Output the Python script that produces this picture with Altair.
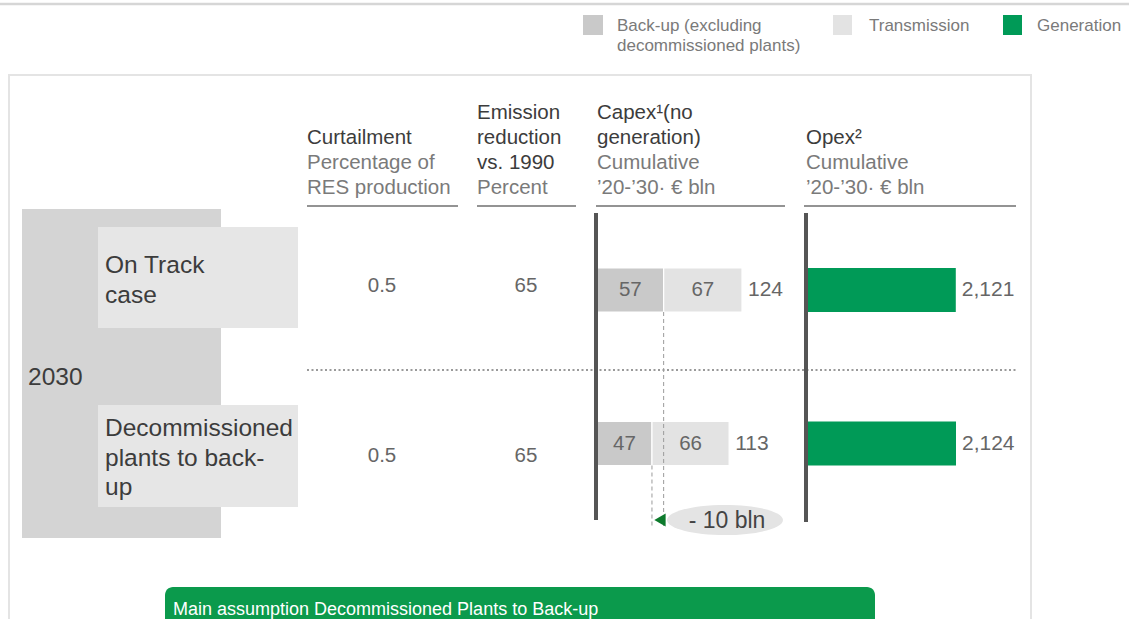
import altair as alt
import pandas as pd

W, H = 1129, 619
FONT = "Liberation Sans"

# ---------------- data ----------------
cases = ["On Track\ncase", "Decommissioned\nplants to back-\nup"]
year_label = "2030"
curtailment = [0.5, 0.5]
emission = [65, 65]
capex_backup = [57, 47]
capex_transmission = [67, 66]
opex = [2121, 2124]
components = ["Back-up", "Transmission"]
legend_labels = ["Back-up (excluding\ndecommissioned plants)", "Transmission", "Generation"]
col_titles = ["Curtailment", "Emission\nreduction\nvs. 1990", "Capex\u00b9(no\ngeneration)", "Opex\u00b2"]
col_units = ["Percentage of\nRES production", "Percent", "Cumulative\n\u201920-\u201930\u00b7 \u20ac bln", "Cumulative\n\u201920-\u201930\u00b7 \u20ac bln"]
footer_text = "Main assumption Decommissioned Plants to Back-up"

# ---------------- colours / layout ----------------
C_BACKUP, C_TRANS, C_GEN = "#c9c9c9", "#e3e3e3", "#009a57"
capex_totals = [b + t for b, t in zip(capex_backup, capex_transmission)]

PX = alt.Scale(domain=[0, W], range=[0, W], nice=False, zero=False, padding=0)
PY = alt.Scale(domain=[0, H], range=[0, H], nice=False, zero=False, padding=0)
ROW = alt.Scale(domain=[0, 1], range=[290, 443.5], nice=False, zero=False, padding=0)
CAPEX = alt.Scale(domain=[0, max(capex_totals)], range=[597, 742], nice=False, padding=0)
OPEX = alt.Scale(domain=[0, max(opex)], range=[808, 956], nice=False, padding=0)


def X(f, s=PX):
    return alt.X(f, type="quantitative", scale=s, axis=None)


def Y(f, s=PY):
    return alt.Y(f, type="quantitative", scale=s, axis=None)


def X2(f):
    return alt.X2(f)


def Y2(f):
    return alt.Y2(f)


# boxes (layout)
boxes = pd.DataFrame([
    dict(x=22, x2=221, y=209, y2=538, c="#d4d4d4"),
    dict(x=98, x2=298, y=227, y2=328, c="#e6e6e6"),
    dict(x=98, x2=298, y=405, y2=507, c="#e6e6e6"),
    dict(x=583, x2=603, y=15, y2=35, c=C_BACKUP),
    dict(x=833, x2=852, y=15, y2=35, c=C_TRANS),
    dict(x=1003, x2=1022, y=15, y2=35, c=C_GEN),
])
box_layer = alt.Chart(boxes).mark_rect().encode(
    x=X("x"), x2=X2("x2"), y=Y("y"), y2=Y2("y2"),
    color=alt.Color("c:N", scale=None))

panel = alt.Chart(pd.DataFrame([dict(x=9, x2=1031, y=75, y2=680)])).mark_rect(
    fillOpacity=0, stroke="#e4e4e4", strokeWidth=2).encode(
    x=X("x"), x2=X2("x2"), y=Y("y"), y2=Y2("y2"))

top_line = alt.Chart(pd.DataFrame([dict(x=0, x2=W, y=4)])).mark_rule(
    color="#d6d6d6", strokeWidth=2.5).encode(x=X("x"), x2=X2("x2"), y=Y("y"))

col_x = [307, 477, 597, 806]
col_rule = [(307, 458), (477, 576), (596, 785), (804, 1016)]
underline = alt.Chart(pd.DataFrame([dict(x=a, x2=b, y=206) for a, b in col_rule])).mark_rule(
    color="#6f6f6f", strokeWidth=1.5).encode(x=X("x"), x2=X2("x2"), y=Y("y"))

separator = alt.Chart(pd.DataFrame([dict(x=307, x2=1017, y=370)])).mark_rule(
    color="#9a9a9a", strokeWidth=2, strokeDash=[2, 2.5]).encode(x=X("x"), x2=X2("x2"), y=Y("y"))

axes = alt.Chart(pd.DataFrame([dict(x=596, y=213, y2=520), dict(x=806, y=213, y2=522)])).mark_rule(
    color="#555555", strokeWidth=4).encode(x=X("x"), y=Y("y"), y2=Y2("y2"))

# header text lines
hdr_rows = []
for cx, t, u in zip(col_x, col_titles, col_units):
    lines = [(s, "#3c3c3c") for s in t.split("\n")] + [(s, "#7a7a7a") for s in u.split("\n")]
    n = len(lines)
    for i, (s, c) in enumerate(lines):
        hdr_rows.append(dict(x=cx, y=188 - 25 * (n - 1 - i), t=s, c=c, s=20.5))
# legend text
leg_x = [617, 869, 1037]
for lx, lab in zip(leg_x, legend_labels):
    for i, s in enumerate(lab.split("\n")):
        hdr_rows.append(dict(x=lx, y=26 + 20 * i, t=s, c="#7a7a7a", s=17))
hdr_rows.append(dict(x=28, y=378, t=year_label, c="#3c3c3c", s=24.5))
left_text = alt.Chart(pd.DataFrame(hdr_rows)).mark_text(
    align="left", baseline="middle", font=FONT).encode(
    x=X("x"), y=Y("y"), text="t:N", color=alt.Color("c:N", scale=None),
    size=alt.Size("s:Q", scale=None))

# case labels
case_df = pd.DataFrame(dict(t=cases, y=[254, 417]))
case_text = alt.Chart(case_df).mark_text(
    align="left", baseline="top", font=FONT, fontSize=24.5, lineHeight=29.5,
    lineBreak="\n", color="#3c3c3c").encode(
    x=alt.value(105), y=Y("y"), text="t:N")

# table values
vals = pd.DataFrame(dict(y=[286, 456], cur=curtailment, emi=emission))
cur_text = alt.Chart(vals).mark_text(font=FONT, fontSize=20.5, color="#666666").encode(
    x=alt.value(382), y=Y("y"), text=alt.Text("cur:Q", format=".1f"))
emi_text = alt.Chart(vals).mark_text(font=FONT, fontSize=20.5, color="#666666").encode(
    x=alt.value(526), y=Y("y"), text=alt.Text("emi:Q", format="d"))

# capex stacked bars
cap_rows = []
for r in range(2):
    cap_rows.append(dict(row=r, comp=components[0], v=capex_backup[r], o=0))
    cap_rows.append(dict(row=r, comp=components[1], v=capex_transmission[r], o=1))
cap_df = pd.DataFrame(cap_rows)
cap_bars = alt.Chart(cap_df).mark_bar(orient="horizontal", size=44, stroke="white", strokeWidth=1.2).encode(
    x=alt.X("v:Q", stack="zero", scale=CAPEX, axis=None),
    y=Y("row", ROW),
    color=alt.Color("comp:N", scale=alt.Scale(domain=components, range=[C_BACKUP, C_TRANS]), legend=None),
    order=alt.Order("o:Q"))
cap_lab = alt.Chart(cap_df).transform_window(
    cum="sum(v)", groupby=["row"], sort=[alt.SortField("o")]
).transform_calculate(mid="datum.cum - datum.v / 2").mark_text(
    font=FONT, fontSize=20.5, color="#666666").encode(
    x=X("mid", CAPEX), y=Y("row", ROW), text=alt.Text("v:Q", format="d"))
tot_df = pd.DataFrame(dict(row=[0, 1], tot=capex_totals))
cap_tot = alt.Chart(tot_df).mark_text(
    font=FONT, fontSize=21, color="#666666", align="left", dx=6).encode(
    x=X("tot", CAPEX), y=Y("row", ROW), text=alt.Text("tot:Q", format="d"))

# opex bars
op_df = pd.DataFrame(dict(row=[0, 1], v=opex))
op_bars = alt.Chart(op_df).mark_bar(orient="horizontal", size=44, color=C_GEN).encode(
    x=X("v", OPEX), y=Y("row", ROW))
op_lab = alt.Chart(op_df).mark_text(
    font=FONT, fontSize=21, color="#666666", align="left", dx=6).encode(
    x=X("v", OPEX), y=Y("row", ROW), text=alt.Text("v:Q", format=","))

# dashed guides from back-up boundaries
guide_df = pd.DataFrame(dict(v=capex_backup, y=[312, 465.5], y2=[526, 526]))
guides = alt.Chart(guide_df).mark_rule(color="#9a9a9a", strokeWidth=1, strokeDash=[4, 3]).encode(
    x=X("v", CAPEX), y=Y("y"), y2=Y2("y2"))

saving = capex_backup[0] - capex_backup[1]
ell_df = pd.DataFrame([dict(x=725, y=520, t=f"- {saving} bln")])
ellipse = alt.Chart(ell_df).mark_point(
    shape="M-1,0A1,0.26,0,1,0,1,0A1,0.26,0,1,0,-1,0Z", size=116 * 116, filled=True,
    color="#e4e4e4", opacity=1).encode(x=X("x"), y=Y("y"))
ell_text = alt.Chart(ell_df).mark_text(font=FONT, fontSize=23, color="#444444", dx=2, dy=1).encode(
    x=X("x"), y=Y("y"), text="t:N")
tri_df = pd.DataFrame([dict(v=capex_backup[1], y=520)])
tri = alt.Chart(tri_df).mark_point(shape="triangle-left", filled=True, size=170, color="#0d7a2c",
                                   opacity=1, xOffset=8).encode(x=X("v", CAPEX), y=Y("y"))

# footer
foot = alt.Chart(pd.DataFrame([dict(x=165, x2=875, y=587, y2=640, t=footer_text)])).mark_rect(
    color="#0b9a4c", cornerRadius=8).encode(x=X("x"), x2=X2("x2"), y=Y("y"), y2=Y2("y2"))
foot_text = alt.Chart(pd.DataFrame([dict(x=173, y=610, t=footer_text)])).mark_text(
    align="left", baseline="middle", font=FONT, fontSize=18, color="white").encode(
    x=X("x"), y=Y("y"), text="t:N")

chart = alt.layer(
    top_line, panel, box_layer, underline, separator,
    left_text, case_text, cur_text, emi_text,
    cap_bars, cap_lab, cap_tot, op_bars, op_lab,
    guides, ellipse, ell_text, tri, axes, foot, foot_text,
).resolve_scale(x="independent", y="independent", color="independent", size="independent").properties(
    width=W, height=H, padding=0, autosize=alt.AutoSizeParams(type="none"),
    background="white",
).configure_view(stroke=None)

chart.save("out.html", embed_options={"renderer": "svg", "actions": False})
